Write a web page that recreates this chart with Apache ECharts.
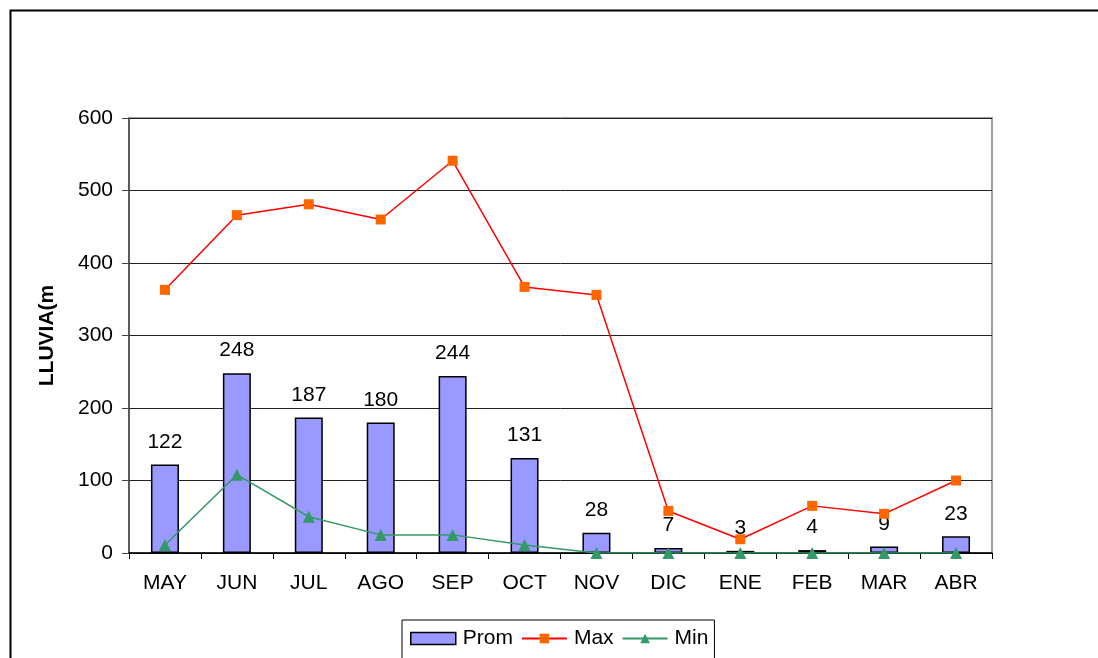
<!DOCTYPE html>
<html>
<head>
<meta charset="utf-8">
<script src="https://cdn.jsdelivr.net/npm/echarts@6/dist/echarts.min.js"></script>
<style>html,body{margin:0;padding:0;background:#fff}#c{width:1098px;height:658px}</style>
</head>
<body>
<div id="c"></div>
<script>
var categories = ['MAY','JUN','JUL','AGO','SEP','OCT','NOV','DIC','ENE','FEB','MAR','ABR'];
var promValues = [122, 248, 187, 180, 244, 131, 28, 7, 3, 4, 9, 23];
var maxValues = [363, 466, 481, 460, 541, 367, 356, 58, 19, 65, 54, 100];
var minValues = [11, 108, 50, 25, 25, 11, 0, 0, 0, 0, 0, 0];
var yTicks = [0, 100, 200, 300, 400, 500, 600];
var yTitle = 'LLUVIA(m';

var FONT = '"Liberation Sans", Arial, sans-serif';
var chart = echarts.init(document.getElementById('c'), null, {renderer: 'canvas'});
chart.setOption({
  animation: false,
  backgroundColor: '#fff',
  textStyle: {fontFamily: FONT},
  graphic: [{
    type: 'rect', left: 8, top: 8, z: 100,
    shape: {x: 0, y: 0, width: 1100, height: 660},
    style: {fill: 'none', stroke: '#000', lineWidth: 2}
  }],
  grid: {left: 129, top: 118, width: 863, height: 435, show: true, borderColor: '#a0a0a0', borderWidth: 2, backgroundColor: 'transparent'},
  legend: {
    left: 402, top: 620, padding: [8, 6, 10, 8],
    borderColor: '#000', borderWidth: 1,
    itemGap: 8, itemWidth: 45, itemHeight: 12,
    textStyle: {fontFamily: FONT, fontSize: 21, color: '#000', padding: [0,0,0,2]},
    data: [
      {name: 'Prom', icon: 'rect', itemStyle: {color: '#9999ff', borderColor: '#000', borderWidth: 1.5}},
      {name: 'Max'},
      {name: 'Min'}
    ]
  },
  xAxis: {
    type: 'category', data: categories, boundaryGap: true,
    axisLine: {lineStyle: {color: '#000', width: 1.5}},
    axisTick: {show: true, length: 6, lineStyle: {color: '#000'}},
    axisLabel: {color: '#000', fontSize: 21, margin: 20, fontFamily: FONT}
  },
  yAxis: {
    type: 'value', min: yTicks[0], max: yTicks[yTicks.length-1], interval: 100,
    name: yTitle, nameLocation: 'middle', nameGap: 71,
    nameTextStyle: {fontSize: 21, fontWeight: 'bold', color: '#000', fontFamily: FONT},
    axisLine: {show: true, lineStyle: {color: '#444', width: 1.5}},
    axisTick: {show: true, length: 7, lineStyle: {color: '#444'}},
    axisLabel: {color: '#000', fontSize: 21, margin: 16, fontFamily: FONT},
    splitLine: {lineStyle: {color: '#222', width: 1}}
  },
  series: [
    {
      name: 'Prom', type: 'bar', data: promValues, barWidth: 28,
      itemStyle: {color: '#9999ff', borderColor: '#000', borderWidth: 1.5},
      label: {show: true, position: 'top', distance: 12, color: '#000', fontSize: 21, fontFamily: FONT},
      z: 2
    },
    {
      name: 'Max', type: 'line', data: maxValues,
      symbol: 'rect', symbolSize: 10,
      lineStyle: {color: '#ff0000', width: 1.5},
      itemStyle: {color: '#ff6600', borderWidth: 0},
      z: 4
    },
    {
      name: 'Min', type: 'line', data: minValues,
      symbol: 'triangle', symbolSize: 12,
      lineStyle: {color: '#339966', width: 1.5},
      itemStyle: {color: '#339966', borderWidth: 0},
      z: 3
    }
  ]
});
</script>
</body>
</html>
